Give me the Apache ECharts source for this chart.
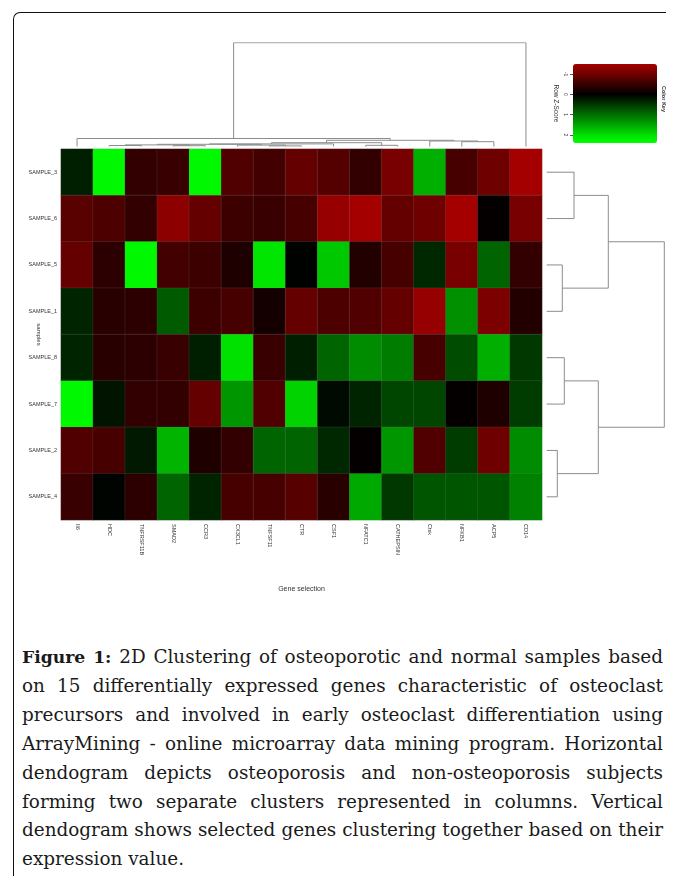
<!DOCTYPE html>
<html>
<head>
<meta charset="utf-8">
<script src="https://cdn.jsdelivr.net/npm/echarts@6/dist/echarts.min.js"></script>
<style>
html, body { margin: 0; padding: 0; background: #fff; }
body { width: 677px; height: 876px; position: relative; overflow: hidden; }
#frame {
  position: absolute; left: 13px; top: 12px; width: 652px; height: 900px;
  border-left: 1.5px solid #111; border-top: 1.5px solid #111;
  border-top-left-radius: 7px;
}
#chart { position: absolute; left: 0; top: 0; width: 677px; height: 620px; }
#caption {
  position: absolute; left: 22px; top: 643px; width: 641px;
  font-family: 'DejaVu Serif', serif; font-size: 18.4px; line-height: 28.9px; color: #1a1a1a;
}
#caption b { font-size: 17.2px; }
#caption div { text-align: justify; text-align-last: justify; white-space: nowrap; }
#caption div.last { text-align-last: left; }
</style>
</head>
<body>
<div id="frame"></div>
<div id="chart"></div>
<div id="caption">
  <div><b>Figure 1:</b> 2D Clustering of osteoporotic and normal samples based</div>
  <div>on 15 differentially expressed genes characteristic of osteoclast</div>
  <div>precursors and involved in early osteoclast differentiation using</div>
  <div>ArrayMining - online microarray data mining program. Horizontal</div>
  <div>dendogram depicts osteoporosis and non-osteoporosis subjects</div>
  <div>forming two separate clusters represented in columns. Vertical</div>
  <div>dendogram shows selected genes clustering together based on their</div>
  <div class="last">expression value.</div>
</div>
<script>
const genes = ['Il6', 'HDC', 'TNFRSF11B', 'SMAD2', 'CCR3', 'CX3CL1', 'TNFSF11', 'CTR',
  'CSF1', 'NFATC1', 'CATHEPSIN', 'Ctsk', 'NFKB1', 'ACP5', 'CD14'];
const samples = ['SAMPLE_3', 'SAMPLE_6', 'SAMPLE_5', 'SAMPLE_1', 'SAMPLE_8', 'SAMPLE_7', 'SAMPLE_2', 'SAMPLE_4'];

// row z-scores, one row per sample, columns in gene order
const zScores = [
  [0.27, 2.3, -0.45, -0.5, 2.3, -0.72, -0.59, -0.9, -0.75, -0.45, -1.08, 1.58, -0.63, -1.0, -1.49],
  [-0.8, -0.68, -0.45, -1.26, -0.9, -0.54, -0.5, -0.63, -1.35, -1.49, -0.9, -1.0, -1.49, -0.05, -1.08],
  [-0.9, -0.4, 2.3, -0.59, -0.54, -0.27, 2.07, 0.02, 1.8, -0.32, -0.63, 0.36, -1.08, 0.9, -0.45],
  [0.32, -0.36, -0.4, 0.81, -0.54, -0.63, -0.18, -0.9, -0.68, -0.72, -0.9, -1.35, 1.3, -1.13, -0.32],
  [0.32, -0.36, -0.4, -0.5, 0.27, 2.03, -0.5, 0.27, 0.9, 1.26, 1.13, -0.63, 0.68, 1.58, 0.5],
  [2.3, 0.18, -0.45, -0.45, -0.9, 1.35, -0.72, 1.9, 0.09, 0.32, 0.63, 0.63, -0.05, -0.27, 0.54],
  [-0.72, -0.63, 0.23, 1.62, -0.27, -0.45, 0.9, 0.9, 0.36, -0.05, 1.35, -0.72, 0.54, -1.0, 1.26],
  [-0.5, 0.04, -0.4, 0.9, 0.32, -0.63, -0.63, -0.77, -0.36, 1.53, 0.5, 0.77, 0.77, 0.77, 1.17]
];

const keyMin = -1.5;
const keyMax = 2.4;
const keyTicks = [-1, 0, 1, 2];

// hclust style merges: negative = leaf (1-based), positive = earlier merge
const colMerge = [[-13, -14], [-12, 1], [-10, -11], [-2, -3], [-4, -5], [4, 5], [-7, -8],
  [-6, 7], [6, 8], [9, -9], [10, 3], [11, 2], [-1, 12], [13, -15]];
const colHeight = [0.48, 0.55, 0.12, 0.10, 0.08, 0.16, 0.06, 0.14, 0.22, 0.26, 0.38, 0.62, 0.80, 10.38];
const rowMerge = [[-1, -2], [-3, -4], [-5, -6], [-7, -8], [1, 2], [3, 4], [5, 6]];
const rowHeight = [2.73, 1.56, 1.76, 1.06, 6.16, 5.16, 11.76];

// red - black - green, black at 0
function zColor(v) {
  const s = Math.min(255, Math.round(255 * Math.abs(v) / 2.3));
  return v < 0 ? 'rgb(' + s + ',0,0)' : 'rgb(0,' + s + ',0)';
}
const keyColors = [];
for (let v = keyMin; v <= keyMax + 1e-9; v += 0.3) keyColors.push(zColor(v));

function dendro(merge, height, horizontal) {
  const pos = [], hgt = [], segs = [];
  merge.forEach(([a, b], k) => {
    const pa = a < 0 ? -a - 0.5 : pos[a - 1], ha = a < 0 ? 0 : hgt[a - 1];
    const pb = b < 0 ? -b - 0.5 : pos[b - 1], hb = b < 0 ? 0 : hgt[b - 1];
    const h = height[k];
    pos[k] = (pa + pb) / 2;
    hgt[k] = h;
    const pts = [[pa, ha], [pa, h], [pb, h], [pb, hb]];
    segs.push({ coords: horizontal ? pts : pts.map(([p, v]) => [v, p]) });
  });
  return segs;
}

const cells = [];
zScores.forEach((row, r) => row.forEach((v, c) => cells.push([c, r, v])));

const chart = echarts.init(document.getElementById('chart'));
const lbl = { fontFamily: 'Liberation Sans, Arial, sans-serif', color: '#333' };

chart.setOption({
  animation: false,
  grid: [
    { left: 61, top: 149, width: 481, height: 371 },
    { left: 61, top: 42.7, width: 481, height: 103.8 },
    { left: 546.7, top: 149, width: 120, height: 371 },
    { left: 573, top: 64, width: 84, height: 79 }
  ],
  xAxis: [
    {
      type: 'category', data: genes, gridIndex: 0,
      axisLine: { show: false }, axisTick: { show: false },
      axisLabel: { ...lbl, rotate: -90, fontSize: 5.5, margin: 4, interval: 0 },
      name: 'Gene selection', nameLocation: 'middle', nameGap: 66, nameMoveOverlap: false,
      nameTextStyle: { ...lbl, fontSize: 7 }
    },
    { type: 'value', gridIndex: 1, min: 0, max: 15, show: false },
    { type: 'value', gridIndex: 2, min: 0, max: 12, show: false },
    { type: 'value', gridIndex: 3, min: 0, max: 1, show: false }
  ],
  yAxis: [
    {
      type: 'category', data: samples, gridIndex: 0, inverse: true,
      axisLine: { show: false }, axisTick: { show: false },
      axisLabel: { ...lbl, fontSize: 5.5, margin: 4, interval: 0 },
      name: 'samples', nameLocation: 'middle', nameRotate: -90, nameGap: 19, nameMoveOverlap: false,
      nameTextStyle: { ...lbl, fontSize: 6 }
    },
    { type: 'value', gridIndex: 1, min: 0, max: 10.38, show: false },
    { type: 'value', gridIndex: 2, min: 0, max: 8, inverse: true, show: false },
    {
      type: 'value', gridIndex: 3, min: keyMin, max: keyMax, inverse: true,
      axisLine: { show: false }, splitLine: { show: false },
      axisTick: { show: true, length: 3, customValues: keyTicks, lineStyle: { color: '#555' } },
      axisLabel: { ...lbl, fontSize: 5, rotate: -90, margin: 5, customValues: keyTicks },
      name: 'Row Z-Score', nameLocation: 'middle', nameRotate: -90, nameGap: 14, nameMoveOverlap: false,
      nameTextStyle: { ...lbl, fontSize: 6.5 }
    }
  ],
  visualMap: {
    type: 'continuous', seriesIndex: 0, min: keyMin, max: keyMax,
    orient: 'vertical', inverse: true, calculable: false,
    left: 573, top: 64, itemWidth: 84, itemHeight: 79, padding: 0,
    inRange: { color: keyColors }, hoverLink: false
  },
  graphic: [{
    type: 'text', x: 667, y: 86, rotation: -Math.PI / 2,
    style: { text: 'Color Key', fontSize: 5.5, fontWeight: 'bold', fill: '#333', fontFamily: 'Liberation Sans, Arial, sans-serif' }
  }],
  series: [
    {
      type: 'heatmap', xAxisIndex: 0, yAxisIndex: 0, data: cells,
      itemStyle: { borderColor: 'rgba(150,150,150,0.3)', borderWidth: 0.5 },
      emphasis: { disabled: true }
    },
    {
      type: 'lines', coordinateSystem: 'cartesian2d', xAxisIndex: 1, yAxisIndex: 1,
      polyline: true, silent: true, data: dendro(colMerge, colHeight, true),
      lineStyle: { color: '#8c8c8c', width: 1, opacity: 1 }
    },
    {
      type: 'lines', coordinateSystem: 'cartesian2d', xAxisIndex: 2, yAxisIndex: 2,
      polyline: true, silent: true, data: dendro(rowMerge, rowHeight, false),
      lineStyle: { color: '#8c8c8c', width: 1, opacity: 1 }
    }
  ]
});
</script>
</body>
</html>
